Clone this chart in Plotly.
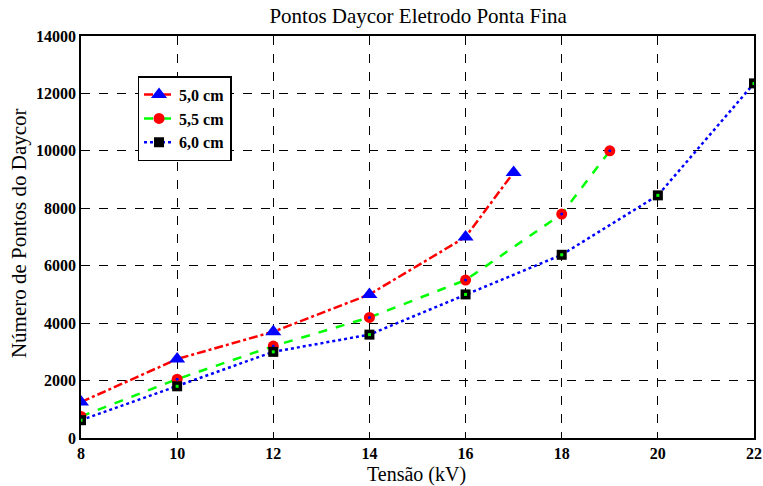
import plotly.graph_objects as go

x50 = [8, 10, 12, 14, 16, 17]
y50 = [1250, 2750, 3700, 5000, 7000, 9250]
x55 = [8, 10, 12, 14, 16, 18, 19]
y55 = [750, 2050, 3200, 4200, 5500, 7800, 10000]
x60 = [8, 10, 12, 14, 16, 18, 20, 22]
y60 = [620, 1800, 3000, 3600, 5000, 6380, 8450, 12350]
xticks = [8, 10, 12, 14, 16, 18, 20, 22]
yticks = [0, 2000, 4000, 6000, 8000, 10000, 12000, 14000]

serif = "Liberation Serif, Times New Roman, serif"
fig = go.Figure()
fig.add_trace(go.Scatter(x=x50, y=y50, name="5,0 cm", mode="lines+markers",
                         line=dict(color="#ff0000", width=2.5, dash="dashdot"),
                         marker=dict(symbol="triangle-up", size=14, color="#0000ff")))
fig.add_trace(go.Scatter(x=x55, y=y55, name="5,5 cm", mode="lines+markers",
                         line=dict(color="#00ff00", width=2.5, dash="dash"),
                         marker=dict(symbol="circle", size=11, color="#ff0000")))
fig.add_trace(go.Scatter(x=x55, y=y55, showlegend=False, mode="markers", hoverinfo="skip",
                         marker=dict(symbol="circle", size=3, color="#0000ff")))
fig.add_trace(go.Scatter(x=x60, y=y60, name="6,0 cm", mode="lines+markers",
                         line=dict(color="#0000ff", width=2.5, dash="dot"),
                         marker=dict(symbol="square", size=10, color="#000000")))
fig.add_trace(go.Scatter(x=x60, y=y60, showlegend=False, mode="markers", hoverinfo="skip",
                         marker=dict(symbol="square", size=3, color="#00ff00")))

axis_common = dict(showline=True, linecolor="black", linewidth=1.5, mirror="ticks",
                   ticks="inside", ticklen=6, tickcolor="black",
                   showgrid=True, gridcolor="black", griddash="dash", gridwidth=1,
                   zeroline=False, automargin=False,
                   tickfont=dict(family=serif, size=16, color="black", weight="bold"))
fig.update_xaxes(range=[8, 22], tickvals=xticks, ticktext=[str(v) for v in xticks], **axis_common)
fig.update_yaxes(range=[0, 14000], tickvals=yticks, ticktext=[str(v) for v in yticks], **axis_common)

fig.update_layout(
    width=763, height=486,
    margin=dict(l=81, r=9, t=36, b=48),
    plot_bgcolor="white", paper_bgcolor="white",
    title=dict(text="Pontos Daycor Eletrodo Ponta Fina", x=0.548, xanchor="center", y=0.967, yanchor="middle",
               font=dict(family=serif, size=21, color="black")),
    legend=dict(x=0.084, y=0.9, xanchor="left", yanchor="top", bgcolor="white",
                bordercolor="black", borderwidth=1.5,
                font=dict(family=serif, size=16, color="black", weight="bold"),
                itemwidth=30, tracegroupgap=0),
    showlegend=True,
    annotations=[
        dict(text="Tensão (kV)", xref="paper", yref="paper", x=0.499, y=-0.091,
             xanchor="center", yanchor="middle", showarrow=False, borderpad=0,
             font=dict(family=serif, size=20, color="black")),
        dict(text="Número de Pontos do Daycor", xref="paper", yref="paper", x=-0.092, y=0.51,
             xanchor="center", yanchor="middle", showarrow=False, textangle=-90,
             font=dict(family=serif, size=21, color="black")),
    ],
)
fig.write_html("out.html", config={"displayModeBar": False},
               post_script="document.body.style.margin='0';document.body.style.padding='0';")
